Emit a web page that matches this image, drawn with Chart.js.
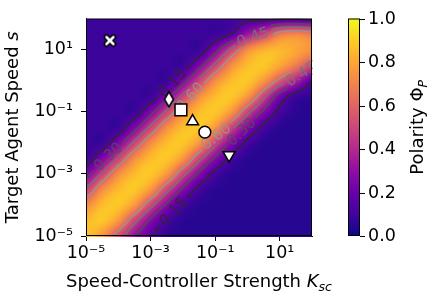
<!DOCTYPE html>
<html>
<head>
<meta charset="utf-8">
<script src="https://cdn.jsdelivr.net/npm/chart.js@4.4.0/dist/chart.umd.min.js"></script>
<style>
  html, body { margin: 0; padding: 0; background: #fff; }
</style>
</head>
<body>
<canvas id="c" width="432" height="299"></canvas>
<script>
// grid nodes of the polarity map: log10 K_sc (columns) and log10 s (rows, top to bottom)
const gridLogK = [-5, -4.5, -4, -3.5, -3, -2.5, -2, -1.5, -1, -0.5, 0, 0.5, 1, 1.5, 2];
const gridLogS = [2, 1.5, 1, 0.5, 0, -0.5, -1, -1.5, -2, -2.5, -3, -3.5, -4, -4.5, -5];
const polarity = [
  [0.09, 0.09, 0.09, 0.09, 0.09, 0.09, 0.09, 0.09, 0.09, 0.10, 0.12, 0.12, 0.13, 0.13, 0.12],
  [0.09, 0.09, 0.09, 0.09, 0.09, 0.09, 0.09, 0.09, 0.09, 0.15, 0.33, 0.48, 0.66, 0.70, 0.66],
  [0.09, 0.09, 0.09, 0.09, 0.09, 0.09, 0.09, 0.09, 0.25, 0.48, 0.72, 0.82, 0.84, 0.80, 0.74],
  [0.09, 0.09, 0.09, 0.09, 0.09, 0.09, 0.09, 0.25, 0.48, 0.72, 0.85, 0.88, 0.80, 0.68, 0.52],
  [0.09, 0.09, 0.09, 0.09, 0.09, 0.09, 0.25, 0.48, 0.72, 0.85, 0.88, 0.76, 0.56, 0.38, 0.17],
  [0.09, 0.09, 0.09, 0.09, 0.09, 0.25, 0.48, 0.72, 0.85, 0.88, 0.76, 0.50, 0.24, 0.10, 0.07],
  [0.09, 0.09, 0.09, 0.09, 0.25, 0.48, 0.72, 0.85, 0.88, 0.76, 0.50, 0.28, 0.12, 0.06, 0.05],
  [0.09, 0.09, 0.09, 0.25, 0.48, 0.72, 0.85, 0.88, 0.76, 0.50, 0.28, 0.12, 0.06, 0.05, 0.05],
  [0.09, 0.09, 0.25, 0.48, 0.72, 0.85, 0.88, 0.76, 0.50, 0.28, 0.12, 0.06, 0.05, 0.05, 0.05],
  [0.09, 0.25, 0.48, 0.72, 0.85, 0.88, 0.76, 0.50, 0.28, 0.12, 0.06, 0.05, 0.05, 0.05, 0.05],
  [0.25, 0.48, 0.72, 0.85, 0.88, 0.76, 0.50, 0.28, 0.12, 0.06, 0.05, 0.05, 0.05, 0.05, 0.05],
  [0.48, 0.72, 0.85, 0.88, 0.76, 0.50, 0.28, 0.12, 0.06, 0.05, 0.05, 0.05, 0.05, 0.05, 0.05],
  [0.72, 0.85, 0.88, 0.76, 0.50, 0.28, 0.12, 0.06, 0.05, 0.05, 0.05, 0.05, 0.05, 0.05, 0.05],
  [0.85, 0.88, 0.76, 0.50, 0.28, 0.13, 0.06, 0.05, 0.05, 0.05, 0.05, 0.05, 0.05, 0.05, 0.05],
  [0.88, 0.76, 0.54, 0.32, 0.17, 0.07, 0.05, 0.05, 0.05, 0.05, 0.05, 0.05, 0.05, 0.05, 0.05]
];

// highlighted parameter sets (markers)
const markerK = [5.5e-5, 3.7e-3, 8.7e-3, 0.020, 0.048, 0.27];
const markerS = [19.5, 0.25, 0.115, 0.049, 0.022, 0.004];

const xTicks = [1e-5, 1e-3, 1e-1, 1e1];
const yTicks = [1e-5, 1e-3, 1e-1, 1e1];
const cbTicks = [0, 0.2, 0.4, 0.6, 0.8, 1.0];

const contourLevels = [0.15, 0.30, 0.45, 0.60];
// where the inline contour labels sit (level, K_sc, s)
const labelLevel = [0.15, 0.15, 0.30, 0.30, 0.45, 0.45, 0.60, 0.60];
const labelK = [5.0e-3, 4.0e-3, 4.8e-5, 0.59, 1.5, 43, 0.0117, 0.115];
const labelS = [0.85, 7.9e-5, 3.7e-3, 0.024, 24, 1.7, 0.42, 0.0155];

// plasma colormap
const plasmaStops = [
  [13, 8, 135], [65, 4, 157], [106, 0, 168], [143, 13, 164], [177, 42, 144],
  [204, 71, 120], [225, 100, 98], [242, 132, 75], [252, 166, 54], [252, 206, 37], [240, 249, 33]
];
const contourColors = ['rgba(42,40,48,0.92)', 'rgba(80,80,80,0.88)', 'rgba(118,118,118,0.88)', 'rgba(150,150,150,0.88)'];
const FONT = "'DejaVu Sans', sans-serif";
const FS = 17.5;
const TS = 18;

function plasma(v) {
  v = Math.min(1, Math.max(0, v));
  const p = v * (plasmaStops.length - 1);
  const i = Math.min(plasmaStops.length - 2, Math.floor(p));
  const f = p - i, a = plasmaStops[i], b = plasmaStops[i + 1];
  return [a[0] + (b[0] - a[0]) * f, a[1] + (b[1] - a[1]) * f, a[2] + (b[2] - a[2]) * f];
}

function cr(p0, p1, p2, p3, t) {
  return p1 + 0.5 * t * (p2 - p0 + t * (2 * p0 - 5 * p1 + 4 * p2 - p3 + t * (3 * (p1 - p2) + p3 - p0)));
}

// smooth (bicubic) read of the grid at log coordinates
function field(lk, ls) {
  const nk = gridLogK.length, ns = gridLogS.length;
  let fi = (lk - gridLogK[0]) / (gridLogK[nk - 1] - gridLogK[0]) * (nk - 1);
  let fj = (gridLogS[0] - ls) / (gridLogS[0] - gridLogS[ns - 1]) * (ns - 1);
  fi = Math.min(nk - 1, Math.max(0, fi));
  fj = Math.min(ns - 1, Math.max(0, fj));
  const i = Math.min(nk - 2, Math.floor(fi)), j = Math.min(ns - 2, Math.floor(fj));
  const u = fi - i, w = fj - j;
  const g = (jj, ii) => polarity[Math.min(ns - 1, Math.max(0, jj))][Math.min(nk - 1, Math.max(0, ii))];
  const rows = [];
  for (let m = -1; m <= 2; m++) {
    rows.push(cr(g(j + m, i - 1), g(j + m, i), g(j + m, i + 1), g(j + m, i + 2), u));
  }
  return Math.min(1, Math.max(0, cr(rows[0], rows[1], rows[2], rows[3], w)));
}

function powerLabel(v) {
  const sup = { '-': '⁻', '0': '⁰', '1': '¹', '2': '²', '3': '³', '4': '⁴', '5': '⁵', '6': '⁶', '7': '⁷', '8': '⁸', '9': '⁹' };
  const e = Math.round(Math.log10(v));
  return '10' + String(e).split('').map(c => sup[c]).join('');
}

// draws [text, font, dy] pieces in a row centred on x
function drawParts(ctx, parts, x, y) {
  let total = 0;
  parts.forEach(p => { ctx.font = p[1]; total += ctx.measureText(p[0]).width; });
  let cx = x - total / 2;
  ctx.textAlign = 'left';
  ctx.textBaseline = 'alphabetic';
  parts.forEach(p => {
    ctx.font = p[1];
    ctx.fillText(p[0], cx, y + (p[2] || 0));
    cx += ctx.measureText(p[0]).width;
  });
}

function marchingSquares(vals, nx, ny, xs, ys, level) {
  const segs = [];
  for (let j = 0; j < ny - 1; j++) {
    for (let i = 0; i < nx - 1; i++) {
      const c = [vals[j][i], vals[j][i + 1], vals[j + 1][i + 1], vals[j + 1][i]];
      const px = [[xs[i], ys[j]], [xs[i + 1], ys[j]], [xs[i + 1], ys[j + 1]], [xs[i], ys[j + 1]]];
      const pts = [];
      for (let e = 0; e < 4; e++) {
        const a = c[e], b = c[(e + 1) % 4];
        if ((a < level) !== (b < level)) {
          const t = (level - a) / (b - a);
          const pa = px[e], pb = px[(e + 1) % 4];
          pts.push([pa[0] + (pb[0] - pa[0]) * t, pa[1] + (pb[1] - pa[1]) * t]);
        }
      }
      if (pts.length >= 2) segs.push([pts[0], pts[1]]);
      if (pts.length === 4) segs.push([pts[2], pts[3]]);
    }
  }
  return segs;
}

const heatmapPlugin = {
  id: 'heatmap',
  beforeDatasetsDraw(chart) {
    const { ctx, chartArea: a, scales: { x, y } } = chart;
    const w = Math.round(a.right - a.left), h = Math.round(a.bottom - a.top);
    const off = document.createElement('canvas');
    off.width = w; off.height = h;
    const octx = off.getContext('2d');
    const img = octx.createImageData(w, h);
    for (let j = 0; j < h; j++) {
      const ls = Math.log10(y.getValueForPixel(a.top + j + 0.5));
      for (let i = 0; i < w; i++) {
        const lk = Math.log10(x.getValueForPixel(a.left + i + 0.5));
        const col = plasma(field(lk, ls));
        const k = (j * w + i) * 4;
        img.data[k] = col[0]; img.data[k + 1] = col[1]; img.data[k + 2] = col[2]; img.data[k + 3] = 255;
      }
    }
    octx.putImageData(img, 0, 0);
    ctx.drawImage(off, a.left, a.top);

    // contour field sampled in pixel space
    const step = 2;
    const xs = [], ys = [];
    for (let px = a.left; px <= a.right + 0.01; px += step) xs.push(px);
    for (let py = a.top; py <= a.bottom + 0.01; py += step) ys.push(py);
    const vals = ys.map(py => {
      const ls = Math.log10(y.getValueForPixel(py));
      return xs.map(px => field(Math.log10(x.getValueForPixel(px)), ls));
    });
    const segsByLevel = contourLevels.map(l => marchingSquares(vals, xs.length, ys.length, xs, ys, l));

    // label placement: snap each label to the nearest piece of its contour
    const cfs = 15;
    ctx.font = cfs + 'px ' + FONT;
    const labels = labelLevel.map((lvl, n) => {
      const li = contourLevels.indexOf(lvl);
      const tx = x.getPixelForValue(labelK[n]), ty = y.getPixelForValue(labelS[n]);
      let best = null, bd = Infinity;
      segsByLevel[li].forEach(s => {
        const mx = (s[0][0] + s[1][0]) / 2, my = (s[0][1] + s[1][1]) / 2;
        const d = (mx - tx) ** 2 + (my - ty) ** 2;
        if (d < bd) { bd = d; best = s; }
      });
      const mx = (best[0][0] + best[1][0]) / 2, my = (best[0][1] + best[1][1]) / 2;
      let ang = Math.atan2(best[1][1] - best[0][1], best[1][0] - best[0][0]);
      if (ang > Math.PI / 2) ang -= Math.PI;
      if (ang < -Math.PI / 2) ang += Math.PI;
      const text = lvl.toFixed(2);
      return { li, x: mx, y: my, ang, text, w: ctx.measureText(text).width };
    });

    ctx.save();
    ctx.beginPath();
    ctx.rect(a.left, a.top, a.right - a.left, a.bottom - a.top);
    labels.forEach(L => {
      const c = Math.cos(L.ang), s = Math.sin(L.ang);
      const hw = L.w / 2 + 3, hh = cfs * 0.45;
      const corners = [[-hw, -hh], [hw, -hh], [hw, hh], [-hw, hh]].map(p => [L.x + p[0] * c - p[1] * s, L.y + p[0] * s + p[1] * c]);
      ctx.moveTo(corners[0][0], corners[0][1]);
      for (let q = 3; q >= 1; q--) ctx.lineTo(corners[q][0], corners[q][1]);
      ctx.closePath();
    });
    ctx.clip('evenodd');
    ctx.lineWidth = 1.6;
    ctx.lineCap = 'round';
    segsByLevel.forEach((segs, li) => {
      ctx.strokeStyle = contourColors[li];
      ctx.beginPath();
      segs.forEach(s => { ctx.moveTo(s[0][0], s[0][1]); ctx.lineTo(s[1][0], s[1][1]); });
      ctx.stroke();
    });
    ctx.restore();

    ctx.save();
    ctx.beginPath();
    ctx.rect(a.left, a.top, a.right - a.left, a.bottom - a.top);
    ctx.clip();
    ctx.font = cfs + 'px ' + FONT;
    ctx.textAlign = 'center';
    ctx.textBaseline = 'middle';
    labels.forEach(L => {
      ctx.save();
      ctx.translate(L.x, L.y);
      ctx.rotate(L.ang);
      ctx.fillStyle = contourColors[L.li];
      ctx.fillText(L.text, 0, 1);
      ctx.restore();
    });
    ctx.restore();

    // frame
    ctx.save();
    ctx.strokeStyle = '#000';
    ctx.lineWidth = 1;
    ctx.strokeRect(a.left + 0.5, a.top + 0.5, a.right - a.left - 1, a.bottom - a.top - 1);
    ctx.restore();
  },
  afterDraw(chart) {
    const { ctx, chartArea: a, scales: { cb } } = chart;
    const left = a.right + 36, width = 12;
    const top = cb.getPixelForValue(1), bottom = cb.getPixelForValue(0);
    const grad = ctx.createLinearGradient(0, bottom, 0, top);
    plasmaStops.forEach((c, i) => grad.addColorStop(i / (plasmaStops.length - 1), `rgb(${c[0]},${c[1]},${c[2]})`));
    ctx.save();
    ctx.fillStyle = grad;
    ctx.fillRect(left, top, width, bottom - top);
    ctx.strokeStyle = '#000';
    ctx.lineWidth = 1;
    ctx.strokeRect(left + 0.5, top + 0.5, width - 1, bottom - top - 1);
    ctx.fillStyle = '#000';
    ctx.font = FS + 'px ' + FONT;
    ctx.textAlign = 'left';
    ctx.textBaseline = 'middle';
    cbTicks.forEach(v => {
      const py = Math.round(cb.getPixelForValue(v)) + 0.5;
      ctx.beginPath();
      ctx.moveTo(left + width, py); ctx.lineTo(left + width + 5, py);
      ctx.stroke();
      ctx.fillText(v.toFixed(1), left + width + 8, py);
    });

    // axis titles
    const normal = TS + 'px ' + FONT, ital = 'italic ' + TS + 'px ' + FONT, sub = 'italic ' + (TS * 0.7) + 'px ' + FONT;
    drawParts(ctx, [['Speed-Controller Strength ', normal], ['K', ital], ['sc', sub, 4]], (a.left + a.right) / 2, 287);
    ctx.save();
    ctx.translate(18, (a.top + a.bottom) / 2);
    ctx.rotate(-Math.PI / 2);
    drawParts(ctx, [['Target Agent Speed ', normal], ['s', ital]], 0, 0);
    ctx.restore();
    ctx.save();
    ctx.translate(423, (a.top + a.bottom) / 2);
    ctx.rotate(-Math.PI / 2);
    drawParts(ctx, [['Polarity Φ', normal], ['P', sub, 4]], 0, 0);
    ctx.restore();
    ctx.restore();
  }
};

function markerImage(kind) {
  const c = document.createElement('canvas');
  const g = c.getContext('2d');
  if (kind === 'x') {
    c.width = 14; c.height = 14;
    g.lineCap = 'round';
    [['#000', 5.5], ['#fff', 2.5]].forEach(([col, lw]) => {
      g.strokeStyle = col; g.lineWidth = lw;
      g.beginPath();
      g.moveTo(3.5, 3.5); g.lineTo(10.5, 10.5);
      g.moveTo(10.5, 3.5); g.lineTo(3.5, 10.5);
      g.stroke();
    });
  } else {
    c.width = 12; c.height = 18;
    g.fillStyle = '#fff'; g.strokeStyle = '#000'; g.lineWidth = 1.5;
    g.beginPath();
    g.moveTo(6, 1.5); g.lineTo(10.5, 9); g.lineTo(6, 16.5); g.lineTo(1.5, 9);
    g.closePath();
    g.fill(); g.stroke();
  }
  return c;
}

const axisCommon = {
  type: 'logarithmic',
  min: 1e-5,
  max: 1e2,
  grid: { display: true, drawOnChartArea: false, drawTicks: true, tickLength: 5, color: '#000', lineWidth: 1 },
  border: { display: true, color: '#000', width: 1 },
  ticks: { color: '#000', font: { family: FONT, size: FS }, autoSkip: false, maxRotation: 0, callback: v => powerLabel(v) }
};

new Chart(document.getElementById('c'), {
  type: 'scatter',
  data: {
    datasets: [{
      data: markerK.map((k, i) => ({ x: k, y: markerS[i] })),
      pointStyle: [markerImage('x'), markerImage('d'), 'rect', 'triangle', 'circle', 'triangle'],
      pointRotation: [0, 0, 0, 0, 0, 180],
      pointRadius: [7, 9, 8.3, 6.8, 5.9, 6.8],
      backgroundColor: '#fff',
      borderColor: '#000',
      borderWidth: 1.5
    }]
  },
  options: {
    responsive: false,
    animation: false,
    events: [],
    layout: { padding: { top: 10, right: 120, left: 0, bottom: 0 } },
    plugins: { legend: { display: false }, tooltip: { enabled: false } },
    scales: {
      x: Object.assign({}, axisCommon, {
        afterBuildTicks: s => { s.ticks = xTicks.map(v => ({ value: v })); },
        afterFit: s => { s.height = 63; },
        ticks: Object.assign({}, axisCommon.ticks, { padding: 2 })
      }),
      y: Object.assign({}, axisCommon, {
        afterBuildTicks: s => { s.ticks = yTicks.map(v => ({ value: v })); },
        afterFit: s => { s.width = 86; },
        ticks: Object.assign({}, axisCommon.ticks, { padding: 8 })
      }),
      cb: { type: 'linear', position: 'right', display: false, min: 0, max: 1 }
    }
  },
  plugins: [heatmapPlugin]
});
</script>
</body>
</html>
